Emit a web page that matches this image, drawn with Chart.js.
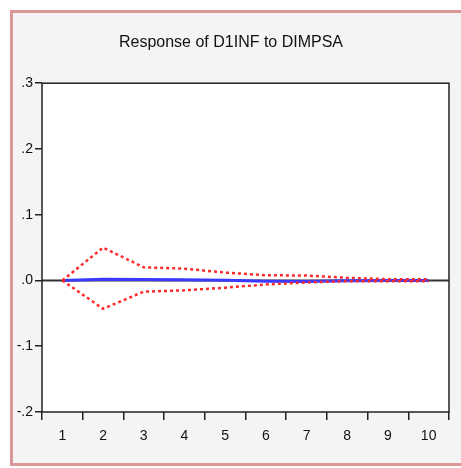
<!DOCTYPE html>
<html>
<head>
<meta charset="utf-8">
<script src="https://cdn.jsdelivr.net/npm/chart.js@4.4.1/dist/chart.umd.min.js"></script>
<style>
    body { margin: 0; background: #ffffff; overflow: hidden; }
    .frame {
        position: absolute; left: 10px; top: 10px;
        width: 460px; height: 450px;
        border: 3px solid #dc9896;
        border-right: none;
        background: #f4f4f4;
    }
    canvas { display: block; }
</style>
</head>
<body>
<div class="frame"><canvas id="irfChart" width="448" height="450"></canvas></div>
<script>
// Impulse response, periods 1..10
const periods = ['1', '2', '3', '4', '5', '6', '7', '8', '9', '10'];
const response = [0, 0.002, 0.0015, 0.001, 0.0005, -0.001, -0.0015, -0.0005, 0, 0];
const upperBand = [0, 0.05, 0.02, 0.018, 0.012, 0.008, 0.0075, 0.004, 0.002, 0.002];
const lowerBand = [0, -0.043, -0.017, -0.015, -0.011, -0.006, -0.003, -0.001, -0.001, -0.001];

// white plot area with a frame, plus the zero line
const plotFrame = {
    id: 'plotFrame',
    beforeDatasetsDraw(chart) {
        const { ctx, chartArea: a, scales } = chart;
        ctx.save();
        ctx.fillStyle = '#ffffff';
        ctx.fillRect(a.left, a.top, a.right - a.left, a.bottom - a.top);
        const y0 = scales.y.getPixelForValue(0);
        ctx.strokeStyle = '#333333';
        ctx.lineWidth = 2;
        ctx.beginPath();
        ctx.moveTo(a.left, y0);
        ctx.lineTo(a.right, y0);
        ctx.stroke();
        ctx.restore();
    },
    afterDraw(chart) {
        const { ctx, chartArea: a } = chart;
        ctx.save();
        ctx.strokeStyle = '#222222';
        ctx.lineWidth = 1.5;
        ctx.strokeRect(a.left, a.top, a.right - a.left, a.bottom - a.top);
        ctx.restore();
    }
};

const fmtTick = (value) => {
    const v = Math.round(value * 10) / 10;
    if (v === 0) return '.0';
    return v.toFixed(1).replace('0.', '.');
};

new Chart(document.getElementById('irfChart'), {
    type: 'line',
    data: {
        labels: periods,
        datasets: [
            { data: upperBand, borderColor: '#ff2a2a', borderWidth: 2.5, borderDash: [3, 3], pointRadius: 0, tension: 0, order: 1 },
            { data: lowerBand, borderColor: '#ff2a2a', borderWidth: 2.5, borderDash: [3, 3], pointRadius: 0, tension: 0, order: 1 },
            { data: response, borderColor: '#3a3aff', borderWidth: 3, pointRadius: 0, tension: 0, order: 2 }
        ]
    },
    options: {
        responsive: false,
        animation: false,
        layout: { padding: { left: 0, right: 12, bottom: 0, top: 0 } },
        plugins: {
            legend: { display: false },
            tooltip: { enabled: false },
            title: {
                display: true,
                text: 'Response of D1INF to DIMPSA',
                color: '#111111',
                font: { family: 'Liberation Sans', size: 16, weight: 'normal' },
                padding: { top: 20, bottom: 31 }
            }
        },
        scales: {
            x: {
                type: 'category',
                offset: true,
                grid: { offset: true, drawOnChartArea: false, drawTicks: true, tickLength: 8, color: '#222222', lineWidth: 1.5 },
                border: { display: false },
                ticks: { color: '#111111', padding: 8, font: { family: 'Liberation Sans', size: 14 }, autoSkip: false, maxRotation: 0 },
                afterFit(scale) { scale.height = 51; }
            },
            y: {
                min: -0.2,
                max: 0.3,
                grid: { drawOnChartArea: false, drawTicks: true, tickLength: 7, color: '#222222', lineWidth: 1.5 },
                border: { display: false },
                ticks: { stepSize: 0.1, color: '#111111', padding: 2, font: { family: 'Liberation Sans', size: 14 }, callback: fmtTick },
                afterFit(scale) { scale.width = 29; }
            }
        }
    },
    plugins: [plotFrame]
});
</script>
</body>
</html>
